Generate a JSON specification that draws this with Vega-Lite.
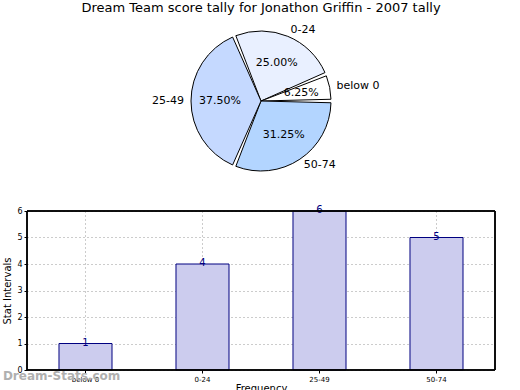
{
  "$schema": "https://vega.github.io/schema/vega-lite/v6.json",
  "padding": {"left": 2, "top": 2, "right": 2, "bottom": 0},
  "background": "white",
  "config": {"font": "DejaVu Sans", "view": {"stroke": null}},
  "datasets": {
    "tally": [
      {"range": "0-24", "count": 4, "pct": "25.00%", "ord": 1},
      {"range": "below 0", "count": 1, "pct": "6.25%", "ord": 2},
      {"range": "50-74", "count": 5, "pct": "31.25%", "ord": 3},
      {"range": "25-49", "count": 6, "pct": "37.50%", "ord": 4}
    ],
    "bars": [
      {"range": "below 0", "count": 1},
      {"range": "0-24", "count": 4},
      {"range": "25-49", "count": 6},
      {"range": "50-74", "count": 5}
    ]
  },
  "bounds": "flush",
  "spacing": 25,
  "vconcat": [
    {
      "width": 468,
      "height": 170,
      "title": {"text": "Dream Team score tally for Jonathon Griffin - 2007 tally", "fontSize": 13, "fontWeight": "normal", "font": "DejaVu Sans", "color": "#000", "offset": 1},
      "data": {"name": "tally"},
      "encoding": {
        "theta": {"field": "count", "type": "quantitative", "stack": true, "scale": {"range": [-0.3927, 5.8905]}},
        "order": {"field": "ord", "type": "quantitative"}
      },
      "layer": [
        {
          "mark": {"type": "arc", "outerRadius": 70, "stroke": "#000", "strokeWidth": 1, "padAngle": 0.05},
          "encoding": {
            "color": {"field": "range", "type": "nominal", "legend": null,
              "scale": {"domain": ["below 0", "0-24", "25-49", "50-74"], "range": ["#ffffff", "#e9f0ff", "#c5d9ff", "#b3d5ff"]}}
          }
        },
        {
          "mark": {"type": "text", "radius": 41, "fontSize": 11, "font": "DejaVu Sans", "color": "#000"},
          "encoding": {"text": {"field": "pct"}}
        },
        {
          "mark": {"type": "text", "radius": 77, "align": "left", "baseline": "middle", "fontSize": 11, "font": "DejaVu Sans", "color": "#000"},
          "encoding": {"text": {"condition": {"test": "datum.range !== '25-49'", "field": "range"}, "value": ""}}
        },
        {
          "mark": {"type": "text", "radius": 77, "align": "right", "baseline": "middle", "fontSize": 11, "font": "DejaVu Sans", "color": "#000"},
          "encoding": {"text": {"condition": {"test": "datum.range === '25-49'", "field": "range"}, "value": ""}}
        }
      ]
    },
    {
      "width": 468,
      "height": 159,
      "data": {"name": "bars"},
      "title": {"text": "Dream-Stats.com", "orient": "bottom", "anchor": "start", "frame": "bounds", "offset": -22, "fontSize": 12, "fontWeight": "bold", "color": "#b0b0b0", "font": "DejaVu Sans"},
      "encoding": {
        "x": {"field": "range", "type": "nominal", "sort": null,
          "scale": {"paddingInner": 0.547, "paddingOuter": 0.2735},
          "axis": {"title": "Frequency", "labelAngle": 0, "labelFontSize": 7, "titleFontSize": 10, "titleFontWeight": "normal", "labelColor": "#000", "titleColor": "#000", "grid": true, "gridDash": [1, 3], "gridColor": "#999", "bandPosition": 0.5, "domain": false, "tickSize": 3, "tickColor": "#000", "labelPadding": 2, "titlePadding": 1}},
        "y": {"field": "count", "type": "quantitative",
          "scale": {"domain": [0, 6], "nice": false},
          "axis": {"title": "Stat Intervals", "values": [0, 1, 2, 3, 4, 5, 6], "labelOverlap": false, "labelFontSize": 8, "titleFontSize": 10, "titleFontWeight": "normal", "labelColor": "#000", "titleColor": "#000", "gridDash": [1, 3], "gridColor": "#999", "domain": false, "tickSize": 3, "tickColor": "#000", "labelPadding": 2, "titlePadding": 4}}
      },
      "layer": [
        {
          "mark": {"type": "bar", "fill": "#ccccee", "stroke": "#000080", "strokeWidth": 1}
        },
        {
          "mark": {"type": "text", "baseline": "bottom", "dy": 4, "fontSize": 10, "color": "#000080"},
          "encoding": {"text": {"field": "count", "type": "quantitative"}}
        },
        {
          "mark": {"type": "rect", "fill": null, "stroke": "#000", "strokeWidth": 1},
          "encoding": {"x": {"value": 0}, "x2": {"value": 468}, "y": {"value": 0}, "y2": {"value": 159}}
        }
      ]
    }
  ]
}
